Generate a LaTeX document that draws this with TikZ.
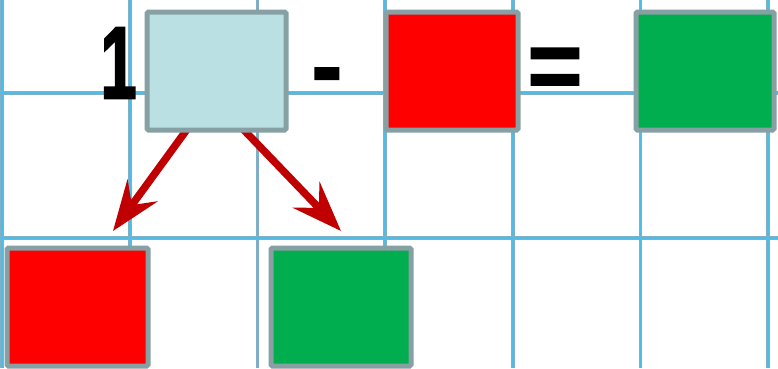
\documentclass[tikz,border=0pt]{standalone}
\usepackage{fontspec}
\setmainfont{Liberation Sans}
\newfontfamily\heavyfont{Liberation Sans}[UprightFont={* Bold}, FakeBold=2.5]
\newfontfamily\semiheavyfont{Liberation Sans}[UprightFont={* Bold}, FakeBold=1.5]
\usetikzlibrary{arrows.meta}
\definecolor{gridedge}{RGB}{130,175,200}
\definecolor{gridcore}{RGB}{75,190,232}
\definecolor{boxline}{RGB}{135,160,163}
\definecolor{lightc}{RGB}{187,224,227}
\definecolor{redc}{RGB}{255,0,0}
\definecolor{greenc}{RGB}{0,173,79}
\definecolor{arrc}{RGB}{192,0,0}
\tikzset{
  gline/.style={draw=gridedge, line width=3.6pt},
  gcore/.style={draw=gridcore, line width=1.6pt},
  box/.style={draw=boxline, line width=5pt, rounded corners=1.5pt, inner sep=0pt},
  bigtxt/.style={font=\fontsize{98}{98}\selectfont\bfseries, inner sep=0pt, anchor=base},
  arr/.style={draw=arrc, line width=7.5pt, -{Stealth[length=50pt, width=37pt, inset=18pt]}}
}
\begin{document}
\begin{tikzpicture}[x=1pt,y=-1pt]
\useasboundingbox (0,0) rectangle (778,368);
\fill[white] (0,0) rectangle (778,368);
% grid
\foreach \gx in {2,129.7,257.3,385,512.7,640.3,768}{
  \draw[gline] (\gx,0) -- (\gx,368);
  \draw[gcore] (\gx,0) -- (\gx,368);
}
\foreach \gy in {93,238}{
  \draw[gline] (0,\gy) -- (778,\gy);
  \draw[gcore] (0,\gy) -- (778,\gy);
}
% arrows
\coordinate (l0) at (188,128);
\coordinate (l1) at (113,231);
\coordinate (r0) at (242,128);
\coordinate (r1) at (341,231);
\draw[arr] (l0) -- (l1);
\draw[arr] (r0) -- (r1);
% boxes
\node[box, fill=lightc, minimum width=139pt, minimum height=118pt] (q) at (216.5,71) {};
\node[box, fill=redc, minimum width=132pt, minimum height=118pt] (rt) at (452,71) {};
\node[box, fill=greenc, minimum width=138pt, minimum height=118pt] (gt) at (705,71) {};
\node[box, fill=redc, minimum width=141pt, minimum height=118pt] (rb) at (77.5,307) {};
\node[box, fill=greenc, minimum width=140pt, minimum height=118pt] (gb) at (341,307) {};
% texts
\node[bigtxt] (one) at (118.5,98) {\scalebox{0.66}[1.04]{\heavyfont 1}};
\node[bigtxt] (minus) at (327,99) {\scalebox{0.95}[1]{\semiheavyfont -}};
\node[bigtxt] (eq) at (555,99) {\scalebox{0.96}[1]{\semiheavyfont =}};
\end{tikzpicture}
\end{document}
